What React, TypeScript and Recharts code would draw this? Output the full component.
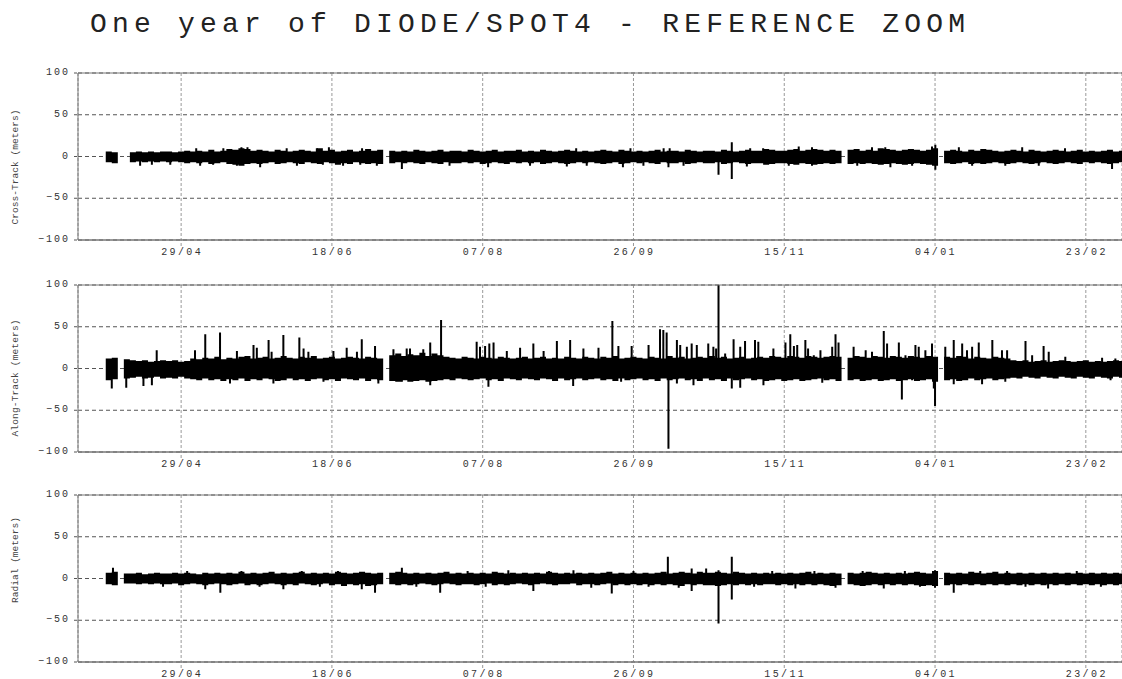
import React from 'react';
import {
  ComposedChart,
  Area,
  Line,
  XAxis,
  YAxis,
  CartesianGrid
} from 'recharts';

// x axis: days counted from 29/04
const xTickDays = [0, 50, 100, 150, 200, 250, 300];
const xTickLabels = ['29/04', '18/06', '07/08', '26/09', '15/11', '04/01', '23/02'];
const yTicks = [-100, -50, 0, 50, 100];

// band envelope, one value per 2-day bin starting at day -25 (null = no data)
const crossHi = [
  6, 5, null, null, 5, 6, 5, 6, 5, 6,
  6, 5, 6, 7, 6, 7, 6, 8, 6, 7,
  9, 8, 10, 9, 7, 8, 7, 6, 8, 7,
  6, 7, 8, 7, 6, 10, 7, 8, 6, 7,
  8, 6, 7, 9, 7, 8, null, 7, 6, 7,
  6, 8, 7, 6, 7, 8, 6, 7, 7, 6,
  8, 7, 6, 7, 8, 6, 7, 7, 8, 6,
  7, 6, 8, 7, 6, 7, 8, 7, 6, 7,
  6, 7, 8, 7, 6, 8, 7, 6, 7, 6,
  7, 8, 6, 7, 7, 6, 8, 7, 6, 7,
  7, 6, 8, 7, 6, 7, 8, 7, 7, 9,
  8, 7, 7, 8, 9, 7, 8, 9, 8, 7,
  8, 7, null, 8, 9, 7, 8, 7, 10, 9,
  8, 7, 8, 9, 8, 7, 8, 10, null, 7,
  8, 7, 6, 8, 7, 9, 8, 7, 6, 7,
  8, 7, 6, 8, 7, 6, 7, 8, 7, 6,
  7, 8, 6, 7, 6, 7, 8, 6, 7
];
const crossLo = [
  -7, -8, null, null, -7, -6, -7, -6, -7, -6,
  -7, -6, -7, -8, -7, -8, -7, -9, -8, -7,
  -9, -10, -11, -9, -8, -9, -8, -7, -9, -8,
  -7, -8, -9, -7, -8, -9, -7, -8, -10, -8,
  -9, -7, -8, -9, -8, -9, null, -8, -7, -8,
  -7, -8, -9, -7, -8, -9, -7, -8, -8, -7,
  -8, -7, -9, -8, -7, -8, -9, -7, -8, -7,
  -8, -7, -9, -8, -7, -8, -9, -8, -7, -8,
  -7, -8, -9, -8, -7, -9, -8, -7, -8, -7,
  -8, -9, -7, -8, -8, -7, -9, -8, -7, -8,
  -8, -7, -9, -8, -7, -8, -9, -8, -8, -10,
  -9, -8, -8, -9, -10, -8, -9, -10, -9, -8,
  -9, -8, null, -9, -8, -9, -8, -9, -10, -9,
  -8, -9, -10, -9, -8, -9, -10, -11, null, -8,
  -9, -8, -7, -9, -8, -9, -8, -7, -8, -9,
  -8, -7, -8, -9, -8, -7, -8, -9, -8, -7,
  -8, -9, -7, -8, -7, -8, -9, -8, -7
];
const crossSpikes = [
  [-13.6, -11], [-9.7, -10], [-3.6, -10], [5, 10], [6.3, -11], [10.6, -10],
  [14, 10], [18.5, -11], [20, 11], [22, 11], [26.2, -13], [35, 10],
  [38.4, -11], [45, 10], [47, -10], [49, 11], [53.7, -11], [59.4, -10],
  [60, 10], [64.9, -11], [73.2, -15], [89, -11], [101.8, -13], [115.7, -11],
  [127.9, -12], [131, 10], [134.5, -11], [146.5, -13], [149, 10],
  [153.3, -11], [160, 10], [161.6, -13], [162, 10], [166.6, -11],
  [178.2, -22], [182.6, 17], [182.6, -27], [187.6, -12], [188.7, 10],
  [193, 10], [201.5, -11], [204.8, 12], [209.2, 11], [209.2, -11],
  [224.2, -11], [229.1, 11], [233.5, 11], [235.2, -13], [242.4, -11],
  [249, 12], [250.1, 14], [250.1, -16], [257.9, 11], [262.3, -11],
  [273.3, -11], [278.9, 11], [284.4, -11], [293.1, 10], [308.7, -15]
];

const alongHi = [
  12, 13, null, 11, 10, 9, 10, 8, 9, 10,
  9, 10, 8, 9, 12, 11, 13, 12, 14, 11,
  13, 12, 14, 15, 12, 13, 14, 12, 13, 15,
  13, 12, 14, 13, 15, 12, 13, 14, 12, 13,
  14, 13, 12, 14, 13, 12, null, 16, 18, 15,
  17, 16, 19, 15, 18, 16, 14, 13, 12, 14,
  13, 12, 14, 13, 12, 14, 13, 12, 13, 14,
  12, 13, 14, 12, 13, 12, 14, 13, 12, 14,
  13, 12, 14, 13, 15, 12, 13, 14, 13, 12,
  14, 13, 12, 15, 13, 14, 12, 13, 14, 13,
  15, 13, 14, 12, 13, 14, 12, 13, 14, 13,
  15, 14, 13, 15, 14, 13, 15, 14, 13, 14,
  15, 14, null, 13, 15, 14, 13, 15, 14, 13,
  15, 14, 13, 15, 14, 13, 15, 14, null, 14,
  13, 15, 14, 12, 14, 13, 12, 14, 13, 12,
  10, 9, 10, 8, 9, 10, 8, 9, 10, 9,
  8, 9, 10, 8, 9, 8, 9, 10, 9
];
const alongLo = [
  -14, -13, null, -12, -11, -10, -12, -11, -10, -12,
  -11, -12, -10, -12, -13, -14, -12, -14, -13, -15,
  -13, -14, -12, -15, -13, -14, -12, -13, -15, -14,
  -12, -14, -13, -15, -13, -12, -14, -13, -15, -12,
  -13, -14, -12, -15, -13, -14, null, -15, -16, -14,
  -16, -15, -14, -16, -15, -14, -13, -14, -12, -13,
  -14, -13, -12, -14, -13, -15, -12, -13, -14, -12,
  -13, -14, -12, -13, -15, -12, -14, -13, -12, -14,
  -13, -12, -14, -13, -15, -12, -14, -13, -12, -14,
  -13, -15, -12, -14, -13, -12, -14, -13, -15, -12,
  -14, -13, -15, -12, -14, -13, -12, -14, -13, -15,
  -14, -13, -15, -14, -13, -15, -14, -13, -12, -14,
  -13, -15, null, -14, -13, -15, -14, -13, -15, -14,
  -13, -15, -14, -13, -15, -14, -13, -16, null, -14,
  -13, -15, -14, -12, -14, -13, -12, -14, -13, -12,
  -11, -12, -10, -11, -12, -10, -11, -12, -10, -11,
  -12, -10, -11, -12, -10, -11, -12, -10, -11
];
const alongSpikes = [
  [-23, -24], [-18.2, -23], [-12.5, -21], [-9.7, -20], [-8.1, 22],
  [4.6, 22], [8, 41], [12.9, 43], [16.2, -18], [18.5, 21], [24, 28],
  [25.1, 25], [29, 34], [30, 20], [30.6, -18], [33.9, 40], [39.2, 37],
  [40.6, 24], [42.2, 20], [47.2, -16], [50.5, 21], [54.9, 25], [58.3, 20],
  [59.9, 35], [64.3, 27], [65.4, -18], [70.4, 23], [73.2, -16], [74.8, 24],
  [75.9, 24], [80.3, 23], [82.6, 31], [82.6, -20], [86.2, 58], [98, 32],
  [99.1, 26], [100.8, 27], [101.9, -22], [102.2, 30], [103.6, 31], [108, 21],
  [112.4, 25], [116.8, 30], [120.2, 21], [124.6, 33], [129, 34], [130, -21],
  [133.4, 24], [138.4, 25], [143, 57], [145, 27], [145.9, -16], [149.4, 27],
  [155, 28], [158.8, 47], [159.9, 46], [161, 43], [161.6, -96], [164.4, 34],
  [164.4, -18], [165.5, 28], [167.7, 26], [169.3, 30], [169.9, -20], [171, 28],
  [174.8, 30], [176.5, 26], [177.4, 24], [178.2, 100], [180.4, 18],
  [182.6, -24], [183.2, 35], [185.4, 26], [185.4, -23], [187, 33], [190.3, 34],
  [191.4, 32], [193.1, -20], [196.4, 24], [200.4, 31], [202, 41], [203.2, 27],
  [204.3, 28], [207, 34], [207.9, 24], [209.8, 16], [212, 22], [212.6, -17],
  [215.9, 26], [217, 41], [218, 31], [223, 26], [227, 22], [229.1, 20],
  [233, 45], [234.1, 30], [238, 31], [239, -37], [240.2, 16], [242.4, -14],
  [243.5, 28], [244.6, 26], [246.8, 22], [249, 30], [249.6, -24], [250, -45],
  [253.4, 26], [256.2, 34], [256.2, -19], [259, 30], [260.6, 22], [262.3, 26],
  [264.5, 31], [265.6, -19], [269, 34], [272.2, 22], [273.3, -16], [273.9, 22],
  [280, 33], [282.2, 16], [286, 27], [287.7, 20], [293.2, 14], [305.4, 13],
  [308.2, -14], [309.8, 12]
];

const radialHi = [
  7, 8, null, 6, 6, 7, 5, 6, 7, 6,
  6, 7, 6, 7, 6, 5, 7, 6, 7, 6,
  7, 6, 8, 6, 7, 6, 7, 8, 6, 7,
  6, 7, 8, 6, 7, 6, 7, 6, 8, 7,
  6, 7, 8, 7, 6, 7, null, 7, 8, 7,
  6, 7, 6, 7, 6, 7, 8, 6, 7, 6,
  7, 6, 7, 6, 8, 7, 6, 7, 6, 7,
  6, 7, 6, 8, 7, 6, 7, 6, 7, 6,
  7, 6, 7, 8, 6, 7, 6, 7, 6, 7,
  6, 7, 8, 6, 7, 8, 7, 6, 8, 7,
  7, 8, 7, 6, 8, 7, 6, 7, 6, 7,
  6, 7, 6, 7, 6, 7, 8, 6, 7, 6,
  7, 6, null, 7, 6, 7, 8, 7, 6, 7,
  6, 7, 6, 7, 8, 7, 6, 9, null, 7,
  6, 7, 6, 8, 7, 6, 7, 8, 6, 7,
  6, 7, 6, 7, 6, 7, 6, 7, 6, 7,
  6, 7, 6, 7, 6, 7, 6, 7, 6
];
const radialLo = [
  -7, -8, null, -6, -6, -7, -6, -7, -6, -7,
  -7, -6, -8, -7, -6, -7, -8, -7, -6, -7,
  -8, -7, -6, -8, -7, -8, -7, -6, -7, -8,
  -7, -8, -6, -7, -8, -7, -6, -8, -7, -9,
  -7, -8, -7, -9, -8, -7, null, -7, -8, -7,
  -8, -7, -6, -7, -8, -7, -6, -7, -8, -7,
  -7, -8, -7, -6, -8, -7, -8, -7, -6, -7,
  -8, -7, -6, -7, -8, -7, -7, -6, -8, -7,
  -7, -8, -7, -6, -8, -7, -8, -7, -8, -7,
  -8, -7, -8, -7, -8, -9, -7, -8, -7, -8,
  -8, -9, -8, -7, -8, -7, -8, -7, -8, -7,
  -7, -8, -7, -8, -7, -8, -7, -8, -7, -8,
  -9, -8, null, -7, -8, -9, -8, -7, -8, -7,
  -8, -7, -8, -7, -8, -9, -8, -9, null, -8,
  -7, -8, -7, -8, -7, -8, -7, -8, -7, -8,
  -7, -8, -7, -8, -7, -8, -7, -8, -7, -8,
  -7, -8, -7, -8, -7, -8, -7, -8, -7
];
const radialSpikes = [
  [-22.6, 13], [-6, -10], [2, 9], [8, -13], [13, -17], [20, 9], [26, -10],
  [33.9, -13], [40, 9], [46, -10], [52, 9], [59.9, -13], [64.3, -17],
  [73.2, 13], [78, -10], [85.9, -17], [95, 9], [101, -10], [108.5, 10],
  [116.8, -15], [122, 9], [130.1, 10], [136, -11], [142.8, -18], [150, 9],
  [155, -10], [161.4, 26], [165, -11], [169.3, -15], [169.3, 12], [174.1, 12],
  [178.2, -54], [178.2, 10], [182.6, 26], [182.6, -25], [190, -10],
  [196, 9], [203.7, -12], [210, 9], [217, -11], [226, 9], [233, -12],
  [240, 9], [245, -10], [250, 10], [250, -11], [256.2, -17], [265, 9],
  [273.9, 9], [280, -10], [287.5, -12], [297, 9], [305, -10]
];

const BIN_START = -25;
const BIN_STEP = 2;
const X_MIN = -34.2;
const X_MAX = 312;
const FONT = '"Liberation Mono", "DejaVu Sans Mono", monospace';

function buildRows(hi: (number | null)[], lo: (number | null)[], spikes: number[][]) {
  const rows: any[] = [];
  hi.forEach((h, i) => {
    const d0 = BIN_START + i * BIN_STEP;
    const d1 = Math.min(d0 + BIN_STEP, X_MAX);
    const l = lo[i];
    const band = h == null || l == null ? [0, 0] : [l, h];
    rows.push({ x: d0, band }, { x: d1, band });
  });
  spikes.forEach(([d, v]) => {
    rows.push({ x: d, spike: 0 }, { x: d, spike: v }, { x: d, spike: null });
  });
  return rows.sort((a, b) => a.x - b.x);
}

const fmtY = (v: number) => (v < 0 ? '\u2212' + Math.abs(v) : String(v));

const XTick = (props: any) => {
  const { x, y, payload } = props;
  const idx = xTickDays.indexOf(payload.value);
  return (
    <text x={x + 1} y={y + 7} textAnchor="middle" fontFamily={FONT} fontSize={10}
      letterSpacing={2.4} fill="#333">
      {idx >= 0 ? xTickLabels[idx] : ''}
    </text>
  );
};

const YTick = (props: any) => {
  const { x, y, payload } = props;
  return (
    <text x={x} y={y + 2} textAnchor="end" fontFamily={FONT} fontSize={10}
      letterSpacing={2} fill="#333">
      {fmtY(payload.value)}
    </text>
  );
};

const PLOT_LEFT = 78;
const PLOT_H = 167;
const panelTops = [73, 285, 495];

interface PanelProps {
  top: number;
  rows: any[];
}

const Panel = ({ top, rows }: PanelProps) => (
  <div style={{ position: 'absolute', left: 0, top: top - 5 }}>
    <ComposedChart width={1122} height={PLOT_H + 35} data={rows}
      margin={{ top: 5, right: 0, bottom: 0, left: PLOT_LEFT - 60 }}>
      <CartesianGrid horizontal vertical={false} stroke="#555" strokeDasharray="4 3" />
      <CartesianGrid horizontal={false} vertical stroke="#999" strokeDasharray="3 2" />
      <XAxis type="number" dataKey="x" domain={[X_MIN, X_MAX]} allowDataOverflow
        ticks={xTickDays} interval={0} height={30} stroke="#777"
        tickSize={6} tickMargin={2}
        tickLine={{ stroke: '#999', strokeDasharray: '3 2' }} tick={XTick} />
      <YAxis type="number" domain={[-100, 100]} ticks={yTicks} interval={0}
        allowDataOverflow width={60} stroke="#777" tickSize={4} tickMargin={4}
        tickLine={{ stroke: '#555', strokeDasharray: '3 2' }} tick={YTick} />
      <Area dataKey="band" type="linear" stroke="none" fill="#000" fillOpacity={1}
        connectNulls isAnimationActive={false} />
      <Line dataKey="spike" type="linear" stroke="#000" strokeWidth={2} dot={false}
        activeDot={false} connectNulls={false} isAnimationActive={false} />
    </ComposedChart>
  </div>
);

const crossRows = buildRows(crossHi, crossLo, crossSpikes);
const alongRows = buildRows(alongHi, alongLo, alongSpikes);
const radialRows = buildRows(radialHi, radialLo, radialSpikes);

const axisTitles = [
  { text: 'Cross-Track (meters)', y: 167, len: 115 },
  { text: 'Along-Track (meters)', y: 378, len: 117 },
  { text: 'Radial (meters)', y: 560, len: 86 },
];

export default function App() {
  return (
    <div style={{ position: 'absolute', left: 0, top: 0, width: 1122, height: 679,
      overflow: 'hidden', background: '#fff' }}>
      <Panel top={panelTops[0]} rows={crossRows} />
      <Panel top={panelTops[1]} rows={alongRows} />
      <Panel top={panelTops[2]} rows={radialRows} />
      <svg width={1122} height={679}
        style={{ position: 'absolute', left: 0, top: 0, pointerEvents: 'none' }}>
        <text x={90} y={32} fontFamily={FONT} fontSize={28} fill="#222"
          textLength={875} lengthAdjust="spacing">
          One year of DIODE/SPOT4 - REFERENCE ZOOM
        </text>
        {panelTops.map((t) => (
          <g key={t} stroke="#777" strokeWidth={1}>
            <line x1={PLOT_LEFT} x2={1122} y1={t} y2={t} />
            <line x1={PLOT_LEFT} x2={1122} y1={t + PLOT_H} y2={t + PLOT_H} />
          </g>
        ))}
        {axisTitles.map((t) => (
          <text key={t.text} x={15} y={t.y} transform={`rotate(-90 15 ${t.y})`}
            textAnchor="middle" dominantBaseline="central" fontFamily={FONT}
            fontSize={9.5} fill="#444" textLength={t.len} lengthAdjust="spacing">
            {t.text}
          </text>
        ))}
      </svg>
    </div>
  );
}
